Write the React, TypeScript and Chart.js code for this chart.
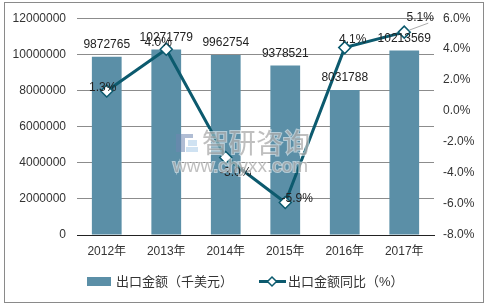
import React, { useEffect, useRef } from "react";
import { Chart, registerables } from "chart.js";

Chart.register(...registerables);

const categories = ["2012年", "2013年", "2014年", "2015年", "2016年", "2017年"];
const exportValues = [9872765, 10271779, 9962754, 9378521, 8031788, 10213569];
const growthValues = [1.3, 4.0, -3.0, -5.9, 4.1, 5.1];
const growthLabels = ["1.3%", "4.0%", "-3.0%", "-5.9%", "4.1%", "5.1%"];
const barSeriesName = "出口金额（千美元）";
const lineSeriesName = "出口金额同比（%）";

const FONT = "'Liberation Sans', Arial, 'Noto Sans CJK SC', sans-serif";
const BAR_COLOR = "#5b8fa7";
const LINE_COLOR = "#0c5a6e";
const TEXT_COLOR = "#333333";

// label offsets for the line labels (relative to the point), in px
const lineLabelOffsets: [number, number][] = [
  [-4, -3],
  [-8, -6],
  [10, 15],
  [12, -4],
  [8, -8],
  [16, -14],
];

const customPlugin = {
  id: "custom",
  afterDatasetsDraw(chart: any) {
    const ctx = chart.ctx as CanvasRenderingContext2D;
    ctx.save();
    ctx.font = "12px " + FONT;
    ctx.fillStyle = "#222";
    ctx.textAlign = "center";
    ctx.textBaseline = "bottom";
    const barMeta = chart.getDatasetMeta(1);
    barMeta.data.forEach((el: any, i: number) => {
      ctx.fillText(String(exportValues[i]), el.x, el.y - 6);
    });
    const lineMeta = chart.getDatasetMeta(0);
    ctx.textBaseline = "middle";
    lineMeta.data.forEach((el: any, i: number) => {
      const [dx, dy] = lineLabelOffsets[i];
      if (i === 5) {
        ctx.strokeStyle = "#aaaaaa";
        ctx.lineWidth = 1;
        ctx.beginPath();
        ctx.moveTo(el.x + 5, el.y - 2);
        ctx.lineTo(el.x + dx + 8, el.y + dy + 5);
        ctx.stroke();
      }
      ctx.fillText(growthLabels[i], el.x + dx, el.y + dy);
    });
    ctx.restore();

    // watermark
    ctx.save();
    ctx.globalAlpha = 0.55;
    ctx.fillStyle = "#6f86b0";
    ctx.fillRect(176, 134, 9, 18);
    ctx.fillRect(185, 134, 8, 4);
    ctx.fillStyle = "#a8cbe8";
    ctx.fillRect(188, 140, 9, 6);
    ctx.fillRect(186, 147, 12, 5);
    ctx.font = "27px 'Noto Sans CJK SC', sans-serif";
    ctx.textBaseline = "middle";
    ctx.textAlign = "left";
    ctx.lineWidth = 2;
    ctx.strokeStyle = "#ffffff";
    ctx.fillStyle = "#8a8a8a";
    ctx.strokeText("智研咨询", 202, 143);
    ctx.fillText("智研咨询", 202, 143);
    ctx.font = "19px " + FONT;
    ctx.strokeText("www.chyxx.com", 173, 167);
    ctx.fillText("www.chyxx.com", 173, 167);
    ctx.restore();
  },
  afterDraw(chart: any) {
    const ctx = chart.ctx as CanvasRenderingContext2D;
    ctx.save();
    // legend
    ctx.fillStyle = BAR_COLOR;
    ctx.fillRect(87, 277, 24, 9);
    ctx.fillStyle = TEXT_COLOR;
    ctx.font = "13px " + FONT;
    ctx.textBaseline = "middle";
    ctx.textAlign = "left";
    ctx.fillText(barSeriesName, 116, 282);
    ctx.strokeStyle = LINE_COLOR;
    ctx.lineWidth = 3;
    ctx.beginPath();
    ctx.moveTo(259, 281.5);
    ctx.lineTo(286, 281.5);
    ctx.stroke();
    ctx.fillStyle = "#fff";
    ctx.lineWidth = 1.5;
    ctx.beginPath();
    ctx.moveTo(272, 277);
    ctx.lineTo(276.5, 281.5);
    ctx.lineTo(272, 286);
    ctx.lineTo(267.5, 281.5);
    ctx.closePath();
    ctx.fill();
    ctx.stroke();
    ctx.fillStyle = TEXT_COLOR;
    ctx.fillText(lineSeriesName, 288, 282);
    // outer border
    ctx.strokeStyle = "#8a8a8a";
    ctx.lineWidth = 1;
    ctx.strokeRect(4.5, 2.5, 479, 300);
    ctx.restore();
  },
};

export default function App() {
  const ref = useRef<HTMLCanvasElement | null>(null);
  useEffect(() => {
    document.body.style.margin = "0";
    const canvas = ref.current!;
    const chart = new Chart(canvas, {
      data: {
        labels: categories,
        datasets: [
          {
            type: "line",
            label: lineSeriesName,
            data: growthValues,
            yAxisID: "y1",
            borderColor: LINE_COLOR,
            borderWidth: 3,
            pointStyle: "rectRot",
            pointRadius: 6,
            pointBorderWidth: 1.5,
            pointBackgroundColor: "#ffffff",
            pointBorderColor: LINE_COLOR,
            tension: 0,
            order: 0,
          },
          {
            type: "bar",
            label: barSeriesName,
            data: exportValues,
            yAxisID: "y",
            backgroundColor: BAR_COLOR,
            categoryPercentage: 1,
            barPercentage: 0.5,
            order: 1,
          },
        ],
      } as any,
      options: {
        responsive: false,
        animation: false,
        layout: { padding: { top: 16, bottom: 42, left: 0, right: 0 } },
        plugins: {
          legend: { display: false },
          tooltip: { enabled: false },
        },
        scales: {
          x: {
            grid: { display: false, drawTicks: false },
            border: { display: true, color: "#222", width: 1 },
            ticks: {
              color: TEXT_COLOR,
              font: { size: 12, family: FONT },
              padding: 9,
            },
            afterFit(scale: any) {
              scale.height = 30;
            },
          },
          y: {
            position: "left",
            min: 0,
            max: 12000000,
            grid: { color: "#8c8c8c", drawTicks: false },
            border: { display: false },
            ticks: {
              stepSize: 2000000,
              color: TEXT_COLOR,
              font: { size: 12, family: FONT },
              padding: 11,
              callback: (v: any) => String(v),
            },
            afterFit(scale: any) {
              scale.width = 77;
            },
          },
          y1: {
            position: "right",
            min: -8,
            max: 6,
            grid: { display: false, drawTicks: false },
            border: { display: false },
            ticks: {
              stepSize: 2,
              color: TEXT_COLOR,
              font: { size: 12, family: FONT },
              padding: 9,
              callback: (v: any) => Number(v).toFixed(1) + "%",
            },
            afterFit(scale: any) {
              scale.width = 54;
            },
          },
        },
      } as any,
      plugins: [customPlugin],
    });
    return () => chart.destroy();
  }, []);
  return (
    <div style={{ width: 488, height: 307, background: "#fff" }}>
      <canvas ref={ref} width={488} height={307} style={{ display: "block" }} />
    </div>
  );
}
